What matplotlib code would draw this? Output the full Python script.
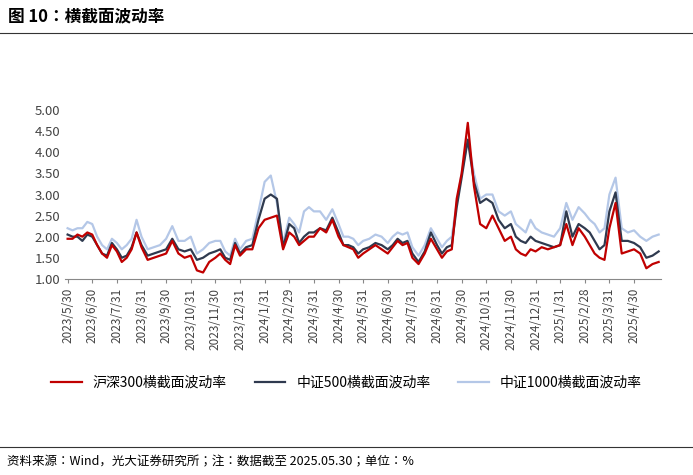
import matplotlib
matplotlib.use("Agg")
import matplotlib.pyplot as plt
from matplotlib import font_manager
import numpy as np

cjk = [f.name for f in font_manager.fontManager.ttflist if "CJK" in f.name]
pref = [n for n in cjk if n.endswith("SC")] + cjk
plt.rcParams["font.family"] = ([pref[0]] if pref else []) + ["DejaVu Sans"]

tick_labels = ["2023/5/30","2023/6/30","2023/7/31","2023/8/31","2023/9/30","2023/10/31",
               "2023/11/30","2023/12/31","2024/1/31","2024/2/29","2024/3/31","2024/4/30",
               "2024/5/31","2024/6/30","2024/7/31","2024/8/31","2024/9/30","2024/10/31",
               "2024/11/30","2024/12/31","2025/1/31","2025/2/28","2025/3/31","2025/4/30"]

# weekly values grouped by month (Jun 2023 .. May 2025)
hs300 = [[1.95,2.05,2.0,2.1,2.05],[1.8,1.6,1.5,1.8,1.65],[1.4,1.5,1.7,2.1,1.75],[1.45,1.5,1.55,1.6],
         [1.9,1.6,1.5,1.55],[1.2,1.15,1.4,1.5],[1.6,1.45,1.35,1.8,1.55],[1.7,1.7,2.2,2.4],
         [2.45,2.5,1.7,2.1],[2.0,1.8,1.9,2.0,2.0],[2.2,2.1,2.4,2.0],[1.8,1.75,1.7,1.5,1.6],
         [1.7,1.8,1.7,1.6],[1.75,1.9,1.8,1.85,1.5],[1.35,1.6,1.95,1.7],[1.5,1.65,1.7,2.9,3.5],
         [4.7,3.2,2.3,2.2],[2.5,2.2,1.9,2.0],[1.7,1.6,1.55,1.7,1.65],[1.75,1.7,1.75,1.8],
         [2.3,1.8,2.2,2.0],[1.8,1.6,1.5,1.45,2.2],[2.8,1.6,1.65,1.7],[1.6,1.25,1.35,1.4]]
zz500 = [[2.0,2.0,1.9,2.05,2.0],[1.8,1.6,1.55,1.85,1.7],[1.5,1.55,1.75,2.1,1.8],[1.55,1.6,1.65,1.7],
         [1.95,1.7,1.65,1.7],[1.45,1.5,1.6,1.65],[1.7,1.5,1.45,1.85,1.6],[1.75,1.8,2.4,2.9],
         [3.0,2.9,1.75,2.3],[2.2,1.85,2.0,2.1,2.1],[2.2,2.15,2.45,2.1],[1.8,1.8,1.75,1.6,1.7],
         [1.75,1.85,1.8,1.7],[1.8,1.95,1.85,1.9,1.6],[1.4,1.65,2.1,1.8],[1.6,1.75,1.8,2.7,3.4],
         [4.3,3.3,2.8,2.9],[2.8,2.4,2.2,2.3],[2.0,1.9,1.85,2.0,1.9],[1.85,1.8,1.75,1.8],
         [2.6,2.0,2.3,2.2],[2.1,1.9,1.7,1.8,2.6],[3.05,1.9,1.9,1.85],[1.75,1.5,1.55,1.65]]
zz1000 = [[2.15,2.2,2.2,2.35,2.3],[2.0,1.8,1.7,1.95,1.85],[1.7,1.8,1.95,2.4,2.0],[1.7,1.75,1.8,1.95],
          [2.25,1.9,1.9,2.0],[1.6,1.7,1.85,1.9],[1.9,1.65,1.55,1.95,1.7],[1.9,1.95,2.6,3.3],
          [3.45,2.8,1.85,2.45],[2.3,2.1,2.6,2.7,2.6],[2.6,2.4,2.65,2.3],[2.0,2.0,1.95,1.8,1.9],
          [1.95,2.05,2.0,1.85],[2.0,2.1,2.05,2.1,1.75],[1.55,1.8,2.2,1.95],[1.75,1.9,2.0,2.8,3.5],
          [4.3,3.5,2.9,3.0],[3.0,2.6,2.5,2.6],[2.3,2.2,2.1,2.4,2.2],[2.1,2.05,2.0,2.2],
          [2.8,2.4,2.7,2.55],[2.4,2.3,2.1,2.2,3.0],[3.4,2.2,2.1,2.15],[2.0,1.9,2.0,2.05]]
start_vals = [1.95, 2.05, 2.2]

def build(series, s0):
    xs, ys = [0.0], [s0]
    for m, vals in enumerate(series):
        n = len(vals)
        for k, v in enumerate(vals):
            xs.append(m + (k + 1) / n)
            ys.append(v)
    return np.array(xs), np.array(ys)

fig = plt.figure(figsize=(6.93, 4.75), dpi=100)
fig.text(0.012, 0.965, "图 10：横截面波动率", fontsize=12, fontweight="bold", va="center")
fig.add_artist(plt.Line2D([0.0, 1.0], [0.93, 0.93], color="#333333", lw=0.8))
ax = fig.add_axes([0.094, 0.413, 0.86, 0.355])
for s, s0, c, lab in [(zz1000, start_vals[2], "#b4c7e7", "中证1000横截面波动率"),
                      (zz500, start_vals[1], "#2f3a4f", "中证500横截面波动率"),
                      (hs300, start_vals[0], "#c00000", "沪深300横截面波动率")]:
    x, y = build(s, s0)
    ax.plot(x, y, color=c, lw=1.6, label=lab)
ax.set_xlim(-0.1, 24.1)
ax.set_ylim(1.0, 5.0)
ax.set_yticks(np.arange(1.0, 5.01, 0.5))
ax.set_yticklabels([f"{v:.2f}" for v in np.arange(1.0, 5.01, 0.5)], fontsize=9.5, color="#444444")
ax.set_xticks(range(24))
ax.set_xticklabels(tick_labels, rotation=90, fontsize=8.5, color="#444444")
for sp in ["top", "right", "left"]:
    ax.spines[sp].set_visible(False)
ax.spines["bottom"].set_color("#888888")
ax.tick_params(axis="y", length=0)
ax.tick_params(axis="x", direction="out", length=3, color="#888888")
h, l = ax.get_legend_handles_labels()
fig.legend(h[::-1], l[::-1], loc="center", bbox_to_anchor=(0.5, 0.195), ncol=3, frameon=False,
           fontsize=10, handlelength=2.2, columnspacing=2.0)
fig.add_artist(plt.Line2D([0.0, 1.0], [0.06, 0.06], color="#333333", lw=0.8))
fig.text(0.01, 0.028, "资料来源：Wind，光大证券研究所；注：数据截至 2025.05.30；单位：%", fontsize=9, va="center")
fig.savefig("out.png", dpi=100)
